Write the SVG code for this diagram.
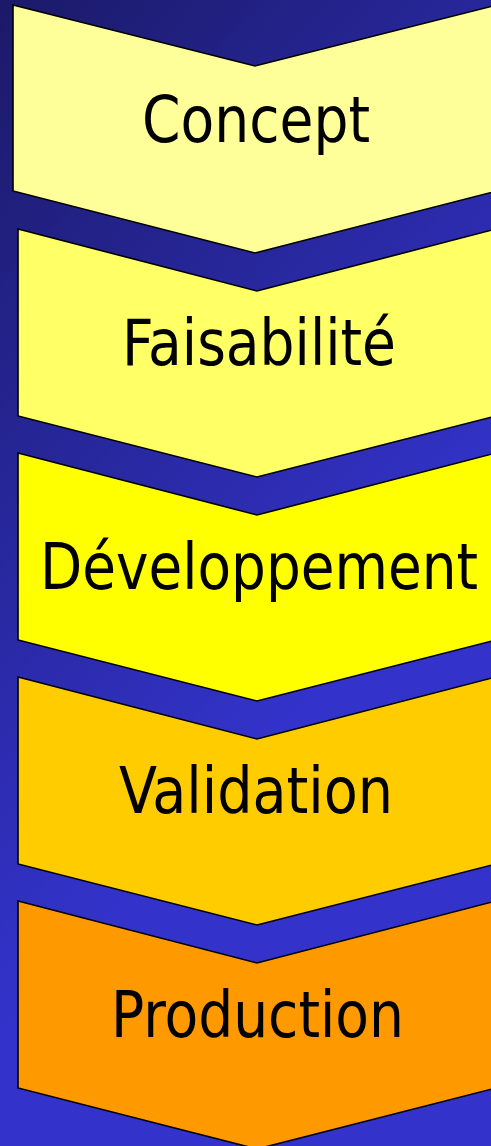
<svg xmlns="http://www.w3.org/2000/svg" width="491" height="1146" viewBox="0 0 491 1146">
  <defs>
    <linearGradient id="bg" x1="0" y1="0" x2="0.35" y2="0.75">
      <stop offset="0" stop-color="#1b1a68"/>
      <stop offset="1" stop-color="#3333cc"/>
    </linearGradient>
    <style>
      .chev { stroke: #000000; stroke-width: 1.6; stroke-linejoin: miter; }
      .lbl { font-family: "DejaVu Sans Condensed", "DejaVu Sans", Tahoma, sans-serif; font-size: 64px; fill: #000000; text-anchor: middle; }
    </style>
  </defs>
  <rect x="0" y="0" width="491" height="1146" fill="url(#bg)"/>
  <g id="concept">
    <polygon class="chev" fill="#ffff99" points="13,5 255,66 497,5 497,191 255,253 13,191"/>
    <text class="lbl" x="256" y="142" textLength="228" lengthAdjust="spacingAndGlyphs">Concept</text>
  </g>
  <g id="faisabilite">
    <polygon class="chev" fill="#ffff66" points="18,229 257,291 496,229 496,416 257,477 18,416"/>
    <text class="lbl" x="259" y="365" textLength="274" lengthAdjust="spacingAndGlyphs">Faisabilité</text>
  </g>
  <g id="developpement">
    <polygon class="chev" fill="#ffff00" points="18,453 257,515 496,453 496,640 257,701 18,640"/>
    <text class="lbl" x="259" y="589" textLength="438" lengthAdjust="spacingAndGlyphs">Développement</text>
  </g>
  <g id="validation">
    <polygon class="chev" fill="#ffcc00" points="18,677 257,739 496,677 496,864 257,925 18,864"/>
    <text class="lbl" x="256" y="813" textLength="274" lengthAdjust="spacingAndGlyphs">Validation</text>
  </g>
  <g id="production">
    <polygon class="chev" fill="#ff9900" points="18,901 257,963 496,901 496,1088 257,1149 18,1088"/>
    <text class="lbl" x="257.5" y="1037" textLength="293" lengthAdjust="spacingAndGlyphs">Production</text>
  </g>
  <g id="connectors"/>
</svg>
